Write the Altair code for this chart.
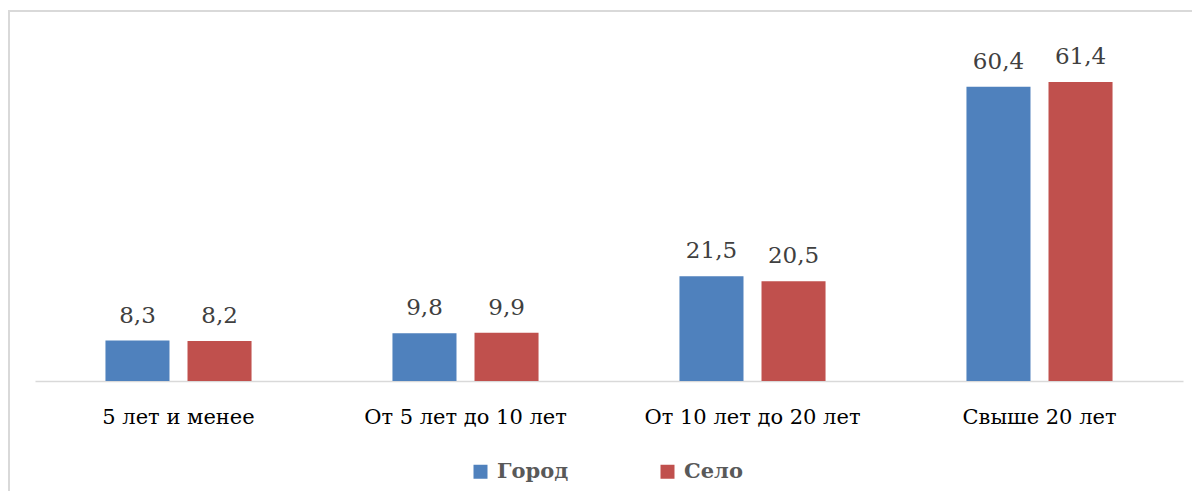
import altair as alt
import pandas as pd

categories = ["5 лет и менее", "От 5 лет до 10 лет", "От 10 лет до 20 лет", "Свыше 20 лет"]
series = ["Город", "Село"]
gorod = [8.3, 9.8, 21.5, 60.4]
selo = [8.2, 9.9, 20.5, 61.4]
colors = ["#4F81BD", "#C0504D"]

rows = []
for c, g, s in zip(categories, gorod, selo):
    rows.append({"cat": c, "series": "Город", "value": g})
    rows.append({"cat": c, "series": "Село", "value": s})
df = pd.DataFrame(rows)
df["label"] = df["value"].map(lambda v: f"{v:.1f}".replace(".", ","))

FONT = "DejaVu Serif"

x_enc = alt.X(
    "cat:N",
    sort=categories,
    scale=alt.Scale(paddingInner=0.491, paddingOuter=0.2455),
    axis=alt.Axis(
        title="",
        labelAngle=0,
        ticks=False,
        grid=False,
        domainColor="#d9d9d9",
        domainWidth=1.5,
        labelFont=FONT,
        labelFontSize=21,
        labelColor="#000000",
        labelBaseline="alphabetic",
        labelPadding=42,
        labelLimit=500,
    ),
)
y_enc = alt.Y("value:Q", scale=alt.Scale(domain=[0, 70]), axis=None)
xoff = alt.XOffset("series:N", sort=series, scale=alt.Scale(paddingInner=0.2195, paddingOuter=0))

bars = alt.Chart(df).mark_bar().encode(
    x=x_enc,
    xOffset=xoff,
    y=y_enc,
    color=alt.Color(
        "series:N",
        sort=series,
        scale=alt.Scale(domain=series, range=colors),
        legend=alt.Legend(
            title="",
            orient="none",
            direction="horizontal",
            legendX=435,
            legendY=421,
            symbolType="square",
            symbolSize=196,
            symbolStrokeWidth=0,
            symbolOpacity=1,
            labelFont=FONT,
            labelFontSize=21,
            labelFontWeight="bold",
            labelColor="#595959",
            labelOffset=6,
            columnPadding=88,
            labelLimit=300,
        ),
    ),
)

labels = alt.Chart(df).mark_text(
    font=FONT, fontSize=23, color="#404040", baseline="alphabetic", dy=-18
).encode(
    x=alt.X("cat:N", sort=categories),
    xOffset=alt.XOffset("series:N", sort=series),
    y=alt.Y("value:Q"),
    text="label:N",
)

border_df = pd.DataFrame({"b": [1]})
border = alt.Chart(border_df).mark_rect(
    fillOpacity=0, stroke="#d9d9d9", strokeWidth=2
).encode(
    x=alt.value(-26), x2=alt.value(1400), y=alt.value(-29), y2=alt.value(700)
)

chart = alt.layer(border, bars, labels).properties(
    width=1148,
    height=341,
    autosize=alt.AutoSizeParams(type="none"),
    padding={"left": 27, "top": 32, "right": 9, "bottom": 110},
    background="white",
).configure_view(strokeOpacity=0)

chart.save("out.html", embed_options={"renderer": "svg", "actions": False})
